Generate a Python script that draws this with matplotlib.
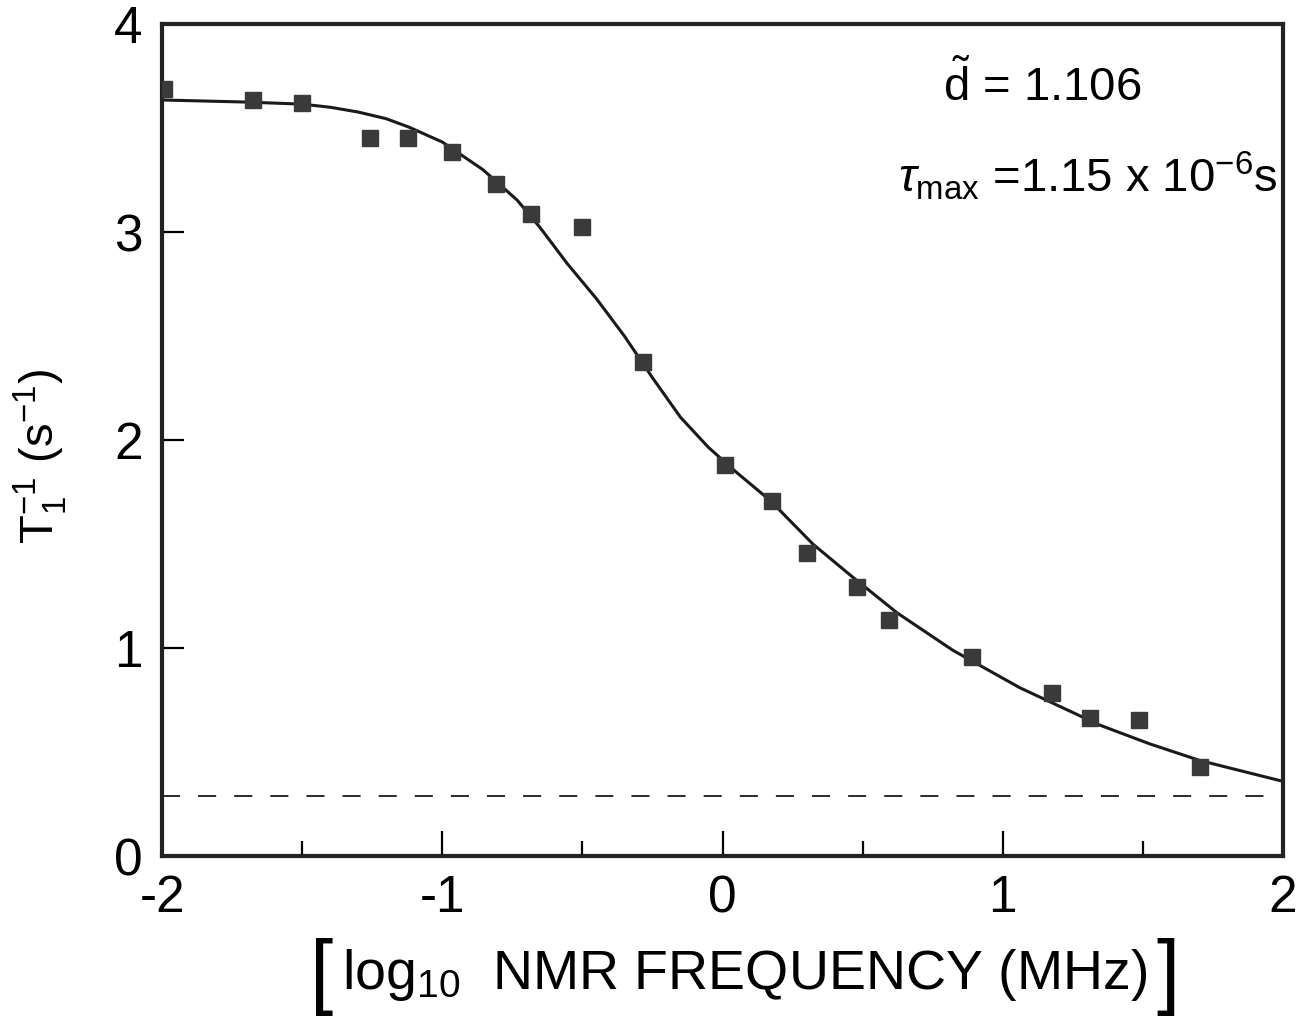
import numpy as np
import matplotlib
matplotlib.use("Agg")
import matplotlib.pyplot as plt

plt.rcParams['font.family'] = ['Liberation Sans', 'DejaVu Sans']
plt.rcParams['mathtext.fontset'] = 'custom'
plt.rcParams['mathtext.rm'] = 'Liberation Sans'
plt.rcParams['mathtext.it'] = 'Liberation Sans:italic'
plt.rcParams['axes.unicode_minus'] = False

# measured points (log10 frequency in MHz, T1^-1 in s^-1)
log_freq = [-1.993, -1.675, -1.50, -1.258, -1.122, -0.965, -0.808, -0.683, -0.501,
            -0.284, 0.009, 0.177, 0.30, 0.48, 0.594, 0.89, 1.176, 1.311, 1.486, 1.704]
rate = [3.69, 3.635, 3.62, 3.452, 3.452, 3.385, 3.231, 3.087, 3.024,
        2.375, 1.88, 1.707, 1.457, 1.293, 1.135, 0.957, 0.784, 0.663, 0.654, 0.428]

# fitted curve
fit_x = [-2.00, -1.70, -1.50, -1.40, -1.30, -1.20, -1.12, -1.00, -0.855, -0.733,
         -0.65, -0.555, -0.45, -0.35, -0.25, -0.15, -0.05, 0.05, 0.17, 0.323,
         0.466, 0.623, 0.822, 1.061, 1.347, 1.525, 1.704, 2.00]
fit_y = [3.635, 3.625, 3.615, 3.60, 3.577, 3.545, 3.505, 3.433, 3.30, 3.154,
         3.02, 2.85, 2.68, 2.50, 2.30, 2.11, 1.965, 1.845, 1.71, 1.50,
         1.34, 1.17, 0.99, 0.81, 0.63, 0.54, 0.46, 0.36]

baseline = 0.288

x_ticks = [-2, -1, 0, 1, 2]
x_tick_labels = ['-2', '-1', '0', '1', '2']
x_minor = [-1.5, -0.5, 0.5, 1.5]
y_ticks = [0, 1, 2, 3, 4]
y_tick_labels = ['0', '1', '2', '3', '4']

fig = plt.figure(figsize=(13.07, 10.23), dpi=100)
ax = fig.add_axes([0.124, 0.163, 0.8576, 0.8135])

ax.plot(fit_x, fit_y, color='#1a1a1a', linewidth=2.2, zorder=2)
ax.plot(log_freq, rate, linestyle='none', marker='s', markersize=11.5,
        color='#3a3a3a', zorder=3)
ax.axhline(baseline, color='#1a1a1a', linewidth=1.3, dashes=(10, 10), zorder=1)

ax.set_xlim(-2, 2)
ax.set_ylim(0, 4)

for sp in ax.spines.values():
    sp.set_linewidth(3)
    sp.set_color('#222222')

ax.set_xticks(x_ticks, x_tick_labels)
ax.set_xticks(x_minor, minor=True)
ax.set_yticks(y_ticks, y_tick_labels)
ax.tick_params(axis='x', which='major', direction='in', length=18, width=1.6,
               labelsize=37, pad=13, top=False)
ax.tick_params(axis='x', which='minor', direction='in', length=11, width=1.6, top=False)
ax.tick_params(axis='y', which='major', direction='in', length=16, width=1.6,
               labelsize=37, pad=14, right=False)

ax.set_ylabel(r'T$_1^{-1}$ (s$^{-1}$)', fontsize=34)
ax.yaxis.set_label_coords(-0.083, 0.48)

# bracketed x label
fig.text(0.570, 0.047, r'log$_{10}$  NMR FREQUENCY (MHz)', fontsize=40,
         ha='center', va='center')
fig.text(0.246, 0.045, '[', fontsize=60, ha='center', va='center')
fig.text(0.894, 0.045, ']', fontsize=60, ha='center', va='center')

ax.text(1.14, 3.70, r'$\tilde{\mathrm{d}}$ = 1.106', fontsize=34, ha='center', va='center')
ax.text(1.98, 3.27, r'$\tau_{\mathrm{max}}$ =1.15 x 10$^{-6}$s', fontsize=34,
        ha='right', va='center')

fig.savefig('out.png', dpi=100, facecolor='white')
